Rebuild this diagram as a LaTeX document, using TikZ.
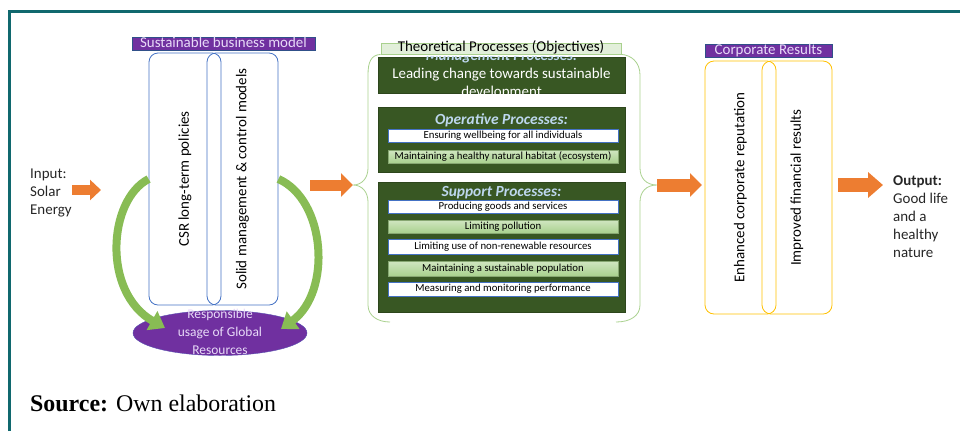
\documentclass[tikz,border=0pt]{standalone}
\usepackage{fontspec}
\setmainfont{Carlito}
\newfontfamily\srcfont{Liberation Serif}
\usetikzlibrary{arrows.meta,shapes.geometric}
\definecolor{frameteal}{RGB}{16,104,110}
\definecolor{bmblue}{RGB}{68,114,196}
\definecolor{labpurple}{RGB}{112,48,160}
\definecolor{labtext}{RGB}{232,218,248}
\definecolor{arrorange}{RGB}{237,125,49}
\definecolor{leafgreen}{RGB}{136,188,84}
\definecolor{darkleaf}{RGB}{56,87,35}
\definecolor{palegreen}{RGB}{169,209,142}
\definecolor{mintgreen}{RGB}{226,239,218}
\definecolor{titleblue}{RGB}{189,215,238}
\definecolor{resgold}{RGB}{255,192,0}

\begin{document}
\begin{tikzpicture}[
    x=1bp, y=-1bp,
    txt/.style={font=\fontsize{15}{18}\selectfont},
    small txt/.style={font=\fontsize{10.8}{12}\selectfont},
    head label/.style={fill=labpurple, draw=bmblue!70!black, line width=0.6bp,
                       text=labtext, inner sep=0pt, minimum height=13bp,
                       text height=9bp, text depth=2bp, txt},
    pillar/.style={rotate=90, rounded corners=9bp, line width=0.8bp,
                   minimum width=252bp, inner sep=0pt, txt},
    proc/.style={fill=darkleaf, draw=darkleaf!80!black, minimum width=247bp, inner sep=0pt},
    proc title/.style={font=\fontsize{15.5}{17}\selectfont\bfseries\itshape, text=titleblue},
    item/.style={minimum width=230bp, minimum height=13bp, inner sep=0pt,
                 text height=7.5bp, text depth=2bp, small txt},
    white item/.style={item, fill=white, draw=bmblue, line width=1bp},
    green item/.style={item, top color=palegreen!55, bottom color=palegreen, draw=palegreen!80!black, line width=0.6bp},
    brace line/.style={draw=palegreen, line width=0.8bp},
    fat arrow/.style={draw=arrorange, line width=11bp, -{Triangle[length=12bp,width=23bp]}},
    green arrow/.style={draw=leafgreen, line width=8bp, -{Triangle[length=15bp,width=21bp]}}
  ]
\useasboundingbox (0,0) rectangle (960,431);
\draw[frameteal, line width=3bp] (9,431) -- (9,11) -- (960,11);

% sustainable business model
\node[head label, minimum width=183bp] (bm label) at (223.5,43.5) {Sustainable business model};
\node[pillar, draw=bmblue, minimum height=72bp] (csr) at (185,179) {CSR long-term policies};
\node[pillar, draw=bmblue, minimum height=71bp] (solid) at (242.5,179) {Solid management \& control models};
\node[anchor=west, align=left, txt, text=black!85, inner sep=0pt] (input) at (30,193) {Input:\\Solar\\Energy};

\node[ellipse, fill=labpurple, draw=bmblue!50!labpurple, minimum width=174bp, minimum height=45bp, inner sep=0pt] (resources) at (220,333) {};
\node[font=\fontsize{13.5}{18}\selectfont, text=labtext, align=center] (resources text) at (220,332) {Responsible\\usage of Global\\Resources};
\coordinate (res left) at (165,328);
\coordinate (res right) at (281,329);
\draw[green arrow] (csr.north) .. controls (108,200) and (102,292) .. (res left);
\draw[green arrow] (solid.south) .. controls (326,200) and (332,292) .. (res right);

% theoretical processes
\node[txt, fill=mintgreen, draw=palegreen, line width=0.8bp, inner sep=0pt, minimum width=240bp,
      minimum height=11bp, text height=8.5bp, text depth=2.5bp] (theo label) at (501,48.5) {Theoretical Processes (Objectives)};
\coordinate (theo in) at (353,185);
\coordinate (theo out) at (657,185);
\draw[brace line] (theo label.south west) .. controls (371,55) and (368,62) .. (368,75) -- (368,168)
  .. controls (368,178) and (362,185) .. (theo in) .. controls (362,185) and (368,192) .. (368,202)
  -- (368,305) .. controls (368,316) and (378,322) .. (390,322);
\draw[brace line] (theo label.south east) .. controls (631,55) and (640,62) .. (640,75) -- (640,168)
  .. controls (640,178) and (646,185) .. (theo out) .. controls (646,185) and (640,192) .. (640,202)
  -- (640,305) .. controls (640,316) and (630,322) .. (616,322);

\node[proc, minimum height=36bp] (mgmt) at (501.5,75) {};
\begin{scope}
  \clip (mgmt.north west) rectangle (mgmt.south east);
  \node[text=white, align=center, font=\fontsize{15}{18}\selectfont] (mgmt text) at (501.5,75)
    {{\bfseries\itshape\color{titleblue}Management Processes:}\\Leading change towards sustainable\\development};
\end{scope}

\node[proc, minimum height=65bp] (oper) at (501.5,139.5) {};
\node[proc title] (oper title) at (501.5,120) {Operative Processes:};
\node[white item] (op1) at (503,135.5) {Ensuring wellbeing for all individuals};
\node[green item] (op2) at (503,156.5) {Maintaining a healthy natural habitat (ecosystem)};

\node[proc, minimum height=130bp] (supp) at (501.5,247) {};
\node[proc title] (supp title) at (501.5,193) {Support Processes:};
\node[white item] (sp1) at (503,206.5) {Producing goods and services};
\node[green item] (sp2) at (503,226.5) {Limiting pollution};
\node[white item, minimum height=15bp] (sp3) at (503,246.5) {Limiting use of non-renewable resources};
\node[green item, minimum height=15bp] (sp4) at (503,268.5) {Maintaining a sustainable population};
\node[white item, minimum height=14bp] (sp5) at (503,289) {Measuring and monitoring performance};

% corporate results
\node[head label, minimum width=127bp] (cr label) at (768.5,50.5) {Corporate Results};
\node[pillar, draw=resgold, minimum width=253bp, minimum height=71bp] (reputation) at (740.5,187.5) {Enhanced corporate reputation};
\node[pillar, draw=resgold, minimum width=253bp, minimum height=70bp] (financial) at (797,187.5) {Improved financial results};
\node[anchor=west, align=left, txt, text=black!85, inner sep=0pt] (output) at (893,217) {\textbf{Output:}\\Good life\\and a\\healthy\\nature};

% block arrows
\coordinate (in tail) at (72,190);
\coordinate (in tip) at (101,190);
\coordinate (bm tail) at (310,185);
\coordinate (cr in) at (702,185);
\coordinate (out tail) at (838,185);
\coordinate (out tip) at (883,185);
\draw[fat arrow, line width=10bp, -{Triangle[length=11bp,width=20bp]}] (in tail) -- (in tip);
\draw[fat arrow] (bm tail) -- (theo in);
\draw[fat arrow, line width=13bp] (theo out) -- (cr in);
\draw[fat arrow, line width=14bp, -{Triangle[length=15bp,width=25bp]}] (out tail) -- (out tip);

\node[anchor=west, inner sep=0pt, font=\srcfont\fontsize{24}{26}\selectfont] (source) at (30,403) {\textbf{Source:} Own elaboration};
\end{tikzpicture}
\end{document}
